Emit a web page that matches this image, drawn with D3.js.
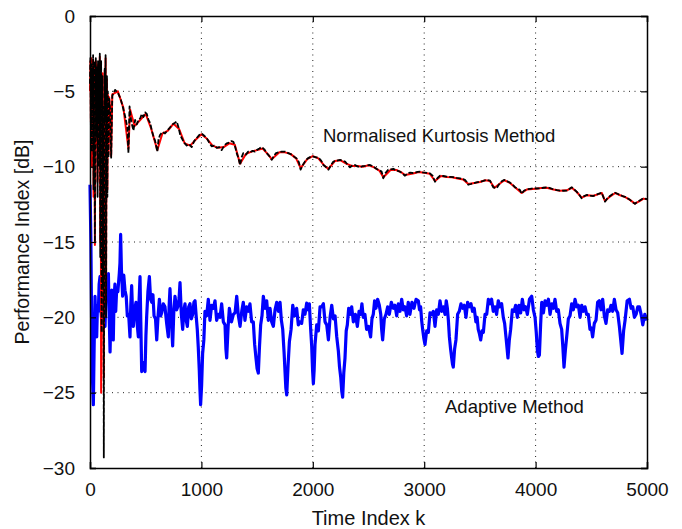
<!DOCTYPE html>
<html><head><meta charset="utf-8">
<script src="https://cdn.jsdelivr.net/npm/d3@7"></script>
<style>body{margin:0;background:#fff}svg{display:block}text{font-family:"Liberation Sans",Arial,sans-serif;fill:#111}</style>
</head><body><svg id="c" width="682" height="529"></svg>
<script>
// ---- data ----
const xTicks = [0, 1000, 2000, 3000, 4000, 5000];
const yTicks = [0, -5, -10, -15, -20, -25, -30];

const blackK = [0,4,8,12,16,20,24,28,32,36,40,44,48,52,56,60,64,68,72,76,80,84,88,92,96,100,104,108,112,116,120,124,128,132,136,140,144,148,152,156,160,166,172,180,190,
200,225,250,275,300,320,335,345,355,370,390,405,420,435,450,465,480,495,510,525,540,555,570,585,604,615,628,650,673,695,718,740,760,778,795,810,823,845,868,890,913,935,958,980,
1003,1025,1047,1070,1092,1115,1137,1160,1182,1205,1227,1250,1270,1287,1300,1317,1335,1347,1360,1376,1400,1420,1436,1460,1480,1496,1520,1541,1565,1586,1610,1631,1650,1670,1691,1720,1750,1780,1810,1835,1855,1875,1891,1910,1930,1955,1980,
2005,2030,2050,2075,2095,2115,2140,2160,2185,2215,2245,2270,2290,2310,2334,2355,2379,2400,2424,2445,2469,2490,2514,2545,2574,2600,2618,2633,2650,2678,2700,2723,2750,2783,2805,2828,2850,2873,2895,2917,2940,2962,2985,
3007,3030,3052,3075,3097,3120,3142,3170,3202,3230,3261,3290,3321,3345,3366,3380,3396,3420,3441,3470,3501,3530,3561,3591,3605,3620,3650,3665,3680,3700,3716,3740,3770,3795,3815,3840,3860,3875,3895,3920,3950,3980,
4010,4039,4070,4099,4130,4159,4190,4219,4250,4279,4300,4324,4345,4368,4390,4413,4435,4458,4490,4518,4540,4563,4593,4608,4623,4645,4668,4690,4713,4735,4758,4780,4803,4825,4847,4870,4892,4905,4922,4945,4967,4985,5000];
const blackV = [-4.5,-2.7,-7.5,-3.2,-9,-3.5,-6,-2.6,-11.5,-4,-3,-15,-5.5,-2.8,-8,-3.4,-6.5,-12,-3,-7,-4,-10,-2.5,-16,-6,-3,-21,-9,-4,-18,-6,-29.3,-14,-3.5,-7,-2.6,-20,-8,-4,-12,-5,-9.4,-5.5,-6.2,-9.4,
-5.3,-4.9,-5.1,-5.5,-6.2,-6.8,-7.4,-9.1,-6.0,-7.0,-7.6,-6.9,-7.2,-6.9,-6.8,-6.5,-6.7,-6.4,-6.5,-6.9,-7.1,-7.6,-8.0,-8.3,-9.0,-8.2,-7.9,-7.7,-7.8,-7.6,-7.4,-7.2,-7.1,-7.0,-7.4,-7.9,-8.1,-8.4,-8.6,-8.5,-8.7,-8.3,-8.1,-7.9,
-7.8,-7.95,-8.1,-8.4,-8.65,-8.6,-8.75,-8.7,-8.9,-8.6,-8.45,-8.4,-8.3,-8.35,-8.6,-9.1,-9.5,-9.9,-9.4,-9.1,-9.2,-9.0,-9.05,-8.95,-9.0,-8.9,-8.8,-8.7,-8.85,-9.1,-9.3,-9.55,-9.3,-9.1,-9.05,-9.0,-9.0,-9.1,-9.2,-9.35,-9.45,-9.7,-10.2,-9.9,-9.65,-9.45,-9.35,
-9.33,-9.38,-9.4,-9.6,-9.89,-10.0,-10.2,-9.95,-9.66,-9.6,-9.55,-9.62,-9.66,-9.85,-10.04,-9.92,-9.89,-9.98,-10.04,-9.97,-9.95,-9.92,-9.89,-10.0,-10.15,-10.25,-10.33,-10.77,-10.45,-10.2,-10.18,-10.15,-10.25,-10.33,-10.45,-10.6,-10.45,-10.4,-10.42,-10.4,-10.35,-10.33,-10.38,
-10.4,-10.42,-10.45,-10.6,-11.0,-10.75,-10.6,-10.62,-10.66,-10.68,-10.7,-10.74,-10.77,-10.82,-10.88,-11.0,-11.2,-11.15,-11.1,-11.05,-11.0,-10.95,-10.88,-10.93,-11.15,-11.37,-11.44,-11.25,-11.1,-10.95,-10.88,-10.95,-11.06,-11.2,-11.37,-11.45,-11.55,-11.8,-11.6,-11.5,-11.47,-11.44,
-11.45,-11.44,-11.4,-11.37,-11.42,-11.5,-11.55,-11.59,-11.6,-11.59,-11.5,-11.37,-11.5,-11.66,-11.85,-12.1,-11.95,-11.88,-11.92,-11.95,-11.88,-11.8,-11.73,-12.0,-12.32,-12.1,-11.95,-11.82,-11.73,-11.8,-11.88,-11.95,-12.0,-12.1,-12.2,-12.35,-12.47,-12.38,-12.3,-12.2,-12.1,-12.13,-12.15];

const redK = [0,4,8,12,16,20,24,28,32,36,40,44,48,52,56,60,64,68,72,76,80,84,88,92,96,100,104,108,112,116,120,124,128,132,136,140,144,148,152,156,160,166,172,180,190,
200,250,300,345,360,400,450,500,550,604,650,700,750,800,850,900,950,1000,1050,1100,1150,1200,1250,1300,1347,1400,1450,1500,1550,1600,1631,1700,1750,1800,1850,1891,1950,
2000,2050,2100,2140,2200,2250,2300,2350,2400,2450,2500,2550,2600,2633,2700,2750,2800,2828,2900,2950,3000,3050,3097,3150,3200,3250,3300,3350,3396,3450,3500,3550,3590,3630,3680,3720,3770,3820,3875,3920,
4000,4050,4100,4160,4220,4280,4325,4370,4413,4460,4520,4565,4595,4623,4670,4715,4760,4805,4850,4892,4925,4970,5000];
const redV = [-5,-3,-7,-2.8,-10,-3.8,-5.5,-2.9,-12,-4.2,-3.1,-15.2,-5,-3,-8.5,-3.2,-7,-11,-3.3,-6,-4.5,-9.5,-2.7,-15,-5.5,-25,-20,-8.5,-3.8,-17,-6.2,-24,-13,-3.6,-7.5,-2.8,-19,-7.6,-4.2,-11.5,-5.2,-9.2,-5.4,-6,-9.3,
-5.2,-5.0,-6.1,-8.8,-6.2,-7.3,-6.9,-6.5,-7.5,-8.9,-7.8,-7.6,-7.15,-7.5,-8.45,-8.6,-8.2,-7.85,-8.15,-8.6,-8.75,-8.7,-8.45,-8.55,-9.8,-9.15,-9.0,-8.9,-8.8,-9.2,-9.5,-9.05,-9.05,-9.15,-9.45,-10.1,-9.5,
-9.3,-9.45,-9.9,-10.15,-9.62,-9.58,-9.8,-9.95,-9.95,-10.0,-9.9,-10.05,-10.28,-10.7,-10.2,-10.22,-10.4,-10.55,-10.45,-10.35,-10.4,-10.47,-10.95,-10.62,-10.68,-10.7,-10.78,-10.85,-11.15,-11.08,-11.02,-10.9,-10.95,-11.4,-11.12,-10.9,-11.08,-11.4,-11.75,-11.52,
-11.46,-11.42,-11.4,-11.52,-11.6,-11.57,-11.4,-11.68,-12.05,-11.9,-11.93,-11.82,-11.75,-12.28,-11.97,-11.75,-11.9,-12.02,-12.22,-12.45,-12.32,-12.12,-12.17];

const blueK = [0,8,15,22,30,37,45,52,60,67,75,82,90,97,105,112,120,128,135,142,150,158,165,172,180,188,195,202,209,216,224,231,239,250,263,269,275,282,293,303,314,325,335,347,359,366,374,381,389,400,413,424,434,441,449,456,464,479,494,502,509,520,533,544,554,565,575,588,599,611,623,634,644,658,673,688,703,710,718,730,742,752,763,778,793,800,808,820,832,843,853,864,874,886,898,910,922,933,943,953,963,972,981,987,993,
1002,1011,1022,1032,1047,1062,1077,1092,1107,1122,1137,1152,1167,1182,1197,1212,1220,1227,1240,1251,1270,1287,1302,1317,1332,1347,1362,1376,1391,1406,1421,1436,1451,1466,1478,1490,1500,1511,1521,1532,1544,1556,1571,1586,1601,1616,1631,1646,1661,1676,1691,1706,1718,1730,1742,1750,1758,1766,1778,1790,1805,1820,1837,1855,1870,1885,1900,1915,1930,1945,1960,1969,1981,1990,1998,
2005,2012,2020,2035,2050,2065,2080,2095,2110,2125,2140,2155,2170,2185,2200,2215,2229,2240,2251,2260,2268,2278,2289,2300,2310,2322,2334,2349,2364,2382,2400,2415,2430,2441,2453,2468,2483,2500,2519,2531,2543,2555,2567,2582,2597,2610,2618,2627,2642,2657,2672,2687,2705,2723,2738,2753,2768,2783,2798,2812,2827,2842,2857,2872,2890,2908,2927,2947,2958,2968,2977,2986,2997,
3007,3022,3037,3052,3067,3082,3097,3112,3127,3142,3157,3172,3187,3198,3208,3217,3226,3237,3247,3254,3261,3273,3285,3300,3315,3330,3345,3360,3375,3390,3405,3420,3434,3449,3464,3475,3485,3496,3507,3519,3531,3546,3561,3576,3591,3605,3620,3635,3650,3665,3680,3695,3710,3722,3734,3743,3752,3764,3776,3791,3806,3821,3836,3851,3866,3881,3896,3911,3926,3945,3965,3980,3995,
4006,4016,4025,4034,4045,4055,4070,4085,4100,4115,4130,4145,4160,4174,4189,4204,4219,4234,4245,4255,4267,4279,4294,4309,4324,4339,4354,4369,4384,4399,4414,4429,4444,4458,4473,4488,4500,4512,4527,4542,4557,4572,4587,4602,4617,4632,4647,4662,4677,4692,4707,4722,4737,4752,4764,4776,4790,4803,4822,4842,4857,4872,4887,4902,4917,4932,4947,4962,4980,5000];
const blueV = [-11.2,-15,-20.8,-24,-25.8,-22,-18.6,-20.4,-21.3,-19.2,-19.6,-17.8,-17.3,-19.4,-20.2,-18.8,-18.6,-20.3,-20.6,-18.7,-17.7,-18.9,-17.1,-19.8,-22.3,-19.6,-18.2,-20.1,-21.5,-18.7,-17.8,-19.6,-18.2,-18.3,-17.1,-16.4,-14.5,-16.8,-18.6,-17.2,-18.2,-18.6,-19.9,-19.8,-21.3,-19.2,-17.9,-19.4,-20.6,-19.5,-19.0,-20.5,-21.3,-18.8,-17.3,-20.3,-23.6,-23.0,-23.6,-21.2,-19.9,-18.3,-17.3,-18.8,-19.0,-18.5,-19.9,-20.1,-21.5,-19.9,-18.8,-19.9,-19.7,-19.1,-19.3,-20.4,-21.3,-19.3,-18.1,-20.1,-21.9,-19.7,-18.6,-19.5,-19.2,-18.7,-17.7,-19.8,-20.8,-19.5,-19.1,-20.2,-20.6,-19.3,-19.1,-20.1,-19.8,-19.0,-18.9,-19.9,-20.8,-22.0,-23.5,-24.8,-25.8,
-24.5,-22.4,-21.5,-19.6,-19.9,-18.8,-20.2,-19.2,-19.4,-18.9,-20.2,-19.8,-20.0,-19.1,-20.3,-20.5,-22.1,-22.7,-20.6,-19.4,-20.3,-19.8,-19.7,-18.6,-19.9,-20.6,-19.6,-19.0,-20.2,-19.3,-19.6,-19.1,-20.3,-20.3,-21.8,-22.7,-23.4,-23.7,-22.0,-20.5,-19.9,-18.6,-19.4,-18.9,-20.2,-19.4,-20.3,-20.6,-19.5,-19.0,-19.6,-19.0,-20.2,-20.8,-22.3,-23.5,-24.7,-25.15,-23.2,-21.6,-20.8,-19.2,-19.9,-19.4,-20.5,-20.3,-20.4,-19.5,-19.8,-19.06,-19.5,-19.1,-20.8,-21.9,-23.5,
-24.4,-23.5,-21.8,-20.5,-20.9,-19.3,-19.3,-19.1,-20.3,-20.5,-21.5,-20.0,-19.2,-20.1,-19.9,-21.3,-22.2,-23.3,-24.0,-24.9,-25.3,-23.7,-22.7,-20.9,-20.5,-19.4,-19.8,-19.3,-20.3,-19.8,-20.6,-19.6,-19.8,-19.1,-20.0,-19.8,-20.8,-20.6,-21.3,-20.1,-19.8,-18.9,-19.4,-18.8,-19.2,-19.8,-20.8,-21.5,-20.1,-19.8,-19.3,-19.8,-19.0,-19.4,-19.2,-19.9,-19.1,-19.6,-18.8,-19.5,-19.3,-19.9,-19.0,-19.8,-19.0,-19.4,-18.8,-18.9,-19.5,-19.3,-20.2,-20.8,-21.4,
-21.8,-20.9,-21.0,-19.7,-19.8,-19.6,-20.6,-19.5,-19.8,-18.9,-19.6,-19.3,-19.8,-18.9,-19.4,-20.2,-21.3,-22.1,-22.7,-23.1,-23.3,-22.1,-21.5,-19.8,-19.6,-19.1,-19.4,-19.2,-20.0,-19.0,-19.3,-19.1,-19.6,-19.4,-20.3,-20.0,-20.8,-21.1,-21.5,-20.9,-21.0,-19.8,-19.8,-18.8,-19.1,-18.8,-19.6,-19.3,-19.8,-18.9,-19.3,-19.1,-20.0,-20.4,-21.3,-22.0,-22.7,-21.5,-20.8,-19.5,-19.6,-19.2,-20.0,-19.2,-19.7,-18.8,-19.5,-19.3,-19.8,-18.8,-18.6,-19.5,-20.0,
-21.0,-22.2,-22.6,-22.5,-20.5,-19.0,-19.7,-18.9,-19.2,-18.8,-19.8,-19.1,-19.4,-18.8,-19.6,-19.5,-20.4,-20.8,-22.0,-23.3,-22.2,-21.3,-20.1,-19.9,-19.1,-19.5,-18.8,-19.3,-19.2,-20.0,-19.2,-19.6,-19.3,-19.8,-19.8,-20.8,-20.7,-21.3,-20.4,-20.2,-19.0,-18.9,-19.5,-18.8,-19.9,-20.4,-19.5,-19.6,-19.2,-19.6,-18.8,-19.5,-19.7,-20.6,-21.5,-22.4,-20.9,-20.2,-18.9,-18.8,-19.4,-19.3,-20.0,-19.8,-19.3,-19.3,-19.8,-20.5,-19.8,-20.2];

const annoKurt = "Normalised Kurtosis Method";
const annoAdapt = "Adaptive Method";

// ---- chart ----
const svg = d3.select("#c");
const L = 90, R = 647, T = 16, B = 468;
const x = d3.scaleLinear().domain([0, 5000]).range([L, R]);
const y = d3.scaleLinear().domain([-30, 0]).range([B, T]);
const FS = 19;

// grid
const g = svg.append("g");
g.selectAll(".gx").data(xTicks.slice(1, -1)).join("line")
  .attr("x1", d => x(d)).attr("x2", d => x(d)).attr("y1", T).attr("y2", B)
  .attr("stroke", "#222").attr("stroke-width", 1).attr("stroke-dasharray", "1,4.5");
g.selectAll(".gy").data(yTicks.slice(1, -1)).join("line")
  .attr("y1", d => y(d)).attr("y2", d => y(d)).attr("x1", L).attr("x2", R)
  .attr("stroke", "#222").attr("stroke-width", 1).attr("stroke-dasharray", "1,4.5");

// lines
const mk = (K, V) => K.map((k, i) => [k, V[i]]);
const line = d3.line().x(d => x(d[0])).y(d => y(d[1]));
svg.append("path").attr("d", line(mk(blueK, blueV))).attr("fill", "none")
  .attr("stroke", "#0000ff").attr("stroke-width", 3.2).attr("stroke-linejoin", "round");
svg.append("path").attr("d", line(mk(redK, redV))).attr("fill", "none")
  .attr("stroke", "#ff0000").attr("stroke-width", 2).attr("stroke-linejoin", "round");
svg.append("path").attr("d", line(mk(blackK, blackV))).attr("fill", "none")
  .attr("stroke", "#000").attr("stroke-width", 1.8).attr("stroke-dasharray", "5,2").attr("stroke-linejoin", "round");

// axes (inward ticks on all sides)
const tl = 6;
const axB = d3.axisBottom(x).tickValues(xTicks).tickSize(-tl).tickPadding(tl + 9).tickFormat(d3.format("d"));
const axT = d3.axisTop(x).tickValues(xTicks).tickSize(-tl).tickFormat("");
const axL = d3.axisLeft(y).tickValues(yTicks).tickSize(-tl).tickPadding(tl + 9).tickFormat(d => d < 0 ? "\u2212" + Math.abs(d) : d);
const axR = d3.axisRight(y).tickValues(yTicks).tickSize(-tl).tickFormat("");
function style(s) {
  s.select(".domain").attr("stroke", "#000").attr("stroke-width", 1.5);
  s.selectAll(".tick line").attr("stroke", "#000").attr("stroke-width", 1.2);
  s.selectAll("text").style("font-size", FS + "px").attr("fill", "#111").style("font-family", '"Liberation Sans",Arial,sans-serif');
}
svg.append("g").attr("transform", `translate(0,${B})`).call(axB).call(style);
svg.append("g").attr("transform", `translate(0,${T})`).call(axT).call(style);
svg.append("g").attr("transform", `translate(${L},0)`).call(axL).call(style);
svg.append("g").attr("transform", `translate(${R},0)`).call(axR).call(style);
svg.selectAll(".domain").attr("d", function(){ return d3.select(this).attr("d").replace(/V[-\d.]+V/,"V"); });

// labels
svg.append("text").attr("x", (L + R) / 2).attr("y", 525).attr("text-anchor", "middle")
  .style("font-size", "20px").text("Time Index k");
svg.append("text").attr("transform", `translate(29,${(T + B) / 2}) rotate(-90)`).attr("text-anchor", "middle")
  .style("font-size", "19.5px").text("Performance Index [dB]");
svg.append("text").attr("x", 323).attr("y", 142).style("font-size", "18.5px").text(annoKurt);
svg.append("text").attr("x", 445).attr("y", 413).style("font-size", "18.5px").text(annoAdapt);
</script></body></html>
